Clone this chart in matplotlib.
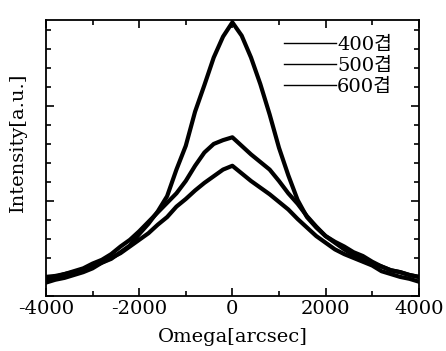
import matplotlib
matplotlib.use("Agg")
import matplotlib.pyplot as plt
from matplotlib.ticker import MultipleLocator

omega = list(range(-4000, 4001, 200))

labels = ["400겹", "500겹", "600겹"]

int_a = [0.20, 0.21, 0.23, 0.25, 0.27, 0.31, 0.35, 0.39, 0.46, 0.53, 0.65,
         0.76, 0.89, 1.05, 1.33, 1.58, 1.94, 2.22, 2.51, 2.73, 2.88,
         2.74, 2.51, 2.23, 1.91, 1.56, 1.27, 1.01, 0.83, 0.72, 0.63,
         0.56, 0.49, 0.43, 0.38, 0.34, 0.31, 0.27, 0.25, 0.22, 0.20]
int_b = [0.18, 0.20, 0.23, 0.26, 0.29, 0.34, 0.38, 0.44, 0.52, 0.59, 0.68,
         0.78, 0.88, 0.98, 1.08, 1.21, 1.37, 1.51, 1.60, 1.64, 1.67,
         1.58, 1.49, 1.41, 1.33, 1.21, 1.08, 0.97, 0.84, 0.73, 0.63,
         0.57, 0.52, 0.46, 0.42, 0.36, 0.31, 0.27, 0.25, 0.22, 0.20]
int_c = [0.14, 0.17, 0.19, 0.22, 0.25, 0.29, 0.35, 0.40, 0.45, 0.52, 0.59,
         0.66, 0.75, 0.83, 0.94, 1.02, 1.11, 1.19, 1.26, 1.33, 1.37,
         1.29, 1.21, 1.14, 1.07, 0.99, 0.91, 0.81, 0.72, 0.63, 0.56,
         0.49, 0.44, 0.40, 0.36, 0.32, 0.26, 0.23, 0.20, 0.18, 0.15]

xticks = [-4000, -2000, 0, 2000, 4000]

fam = ["DejaVu Serif", "Noto Sans CJK KR"]

fig = plt.figure(figsize=(4.46, 3.51), dpi=100)
ax = fig.add_axes([0.103, 0.157, 0.836, 0.786])

for series, lab in zip([int_a, int_b, int_c], labels):
    ax.plot(omega, series, color="black", lw=3.0, label=lab)

ax.set_xlim(-4000, 4000)
ax.set_ylim(0, 2.905)
ax.set_xticks(xticks)
ax.set_xticklabels([str(t) for t in xticks], family=fam, fontsize=14)
ax.xaxis.set_minor_locator(MultipleLocator(1000))
ax.yaxis.set_major_locator(MultipleLocator(1.0))
ax.yaxis.set_minor_locator(MultipleLocator(0.2))
ax.set_yticklabels([])
ax.tick_params(which="both", direction="in", top=True, right=True, width=1.2, colors="black")
ax.tick_params(which="major", length=6, pad=3)
ax.tick_params(which="minor", length=3.5)
ax.tick_params(axis="y", which="both", left=True, labelleft=False)
for s in ax.spines.values():
    s.set_linewidth(1.3)

ax.set_xlabel("Omega[arcsec]", family=fam, fontsize=14)
ax.xaxis.set_label_coords(0.5, -0.118)
ax.set_ylabel("Intensity[a.u.]", family=fam, fontsize=14)
ax.yaxis.set_label_coords(-0.05, 0.555)

leg = ax.legend(loc="upper right", bbox_to_anchor=(0.975, 1.005), frameon=False,
                handlelength=2.7, handletextpad=0.05, labelspacing=0.15,
                prop={"family": fam, "size": 14})
for h in leg.get_lines():
    h.set_linewidth(1.0)

fig.savefig("out.png", dpi=100)
